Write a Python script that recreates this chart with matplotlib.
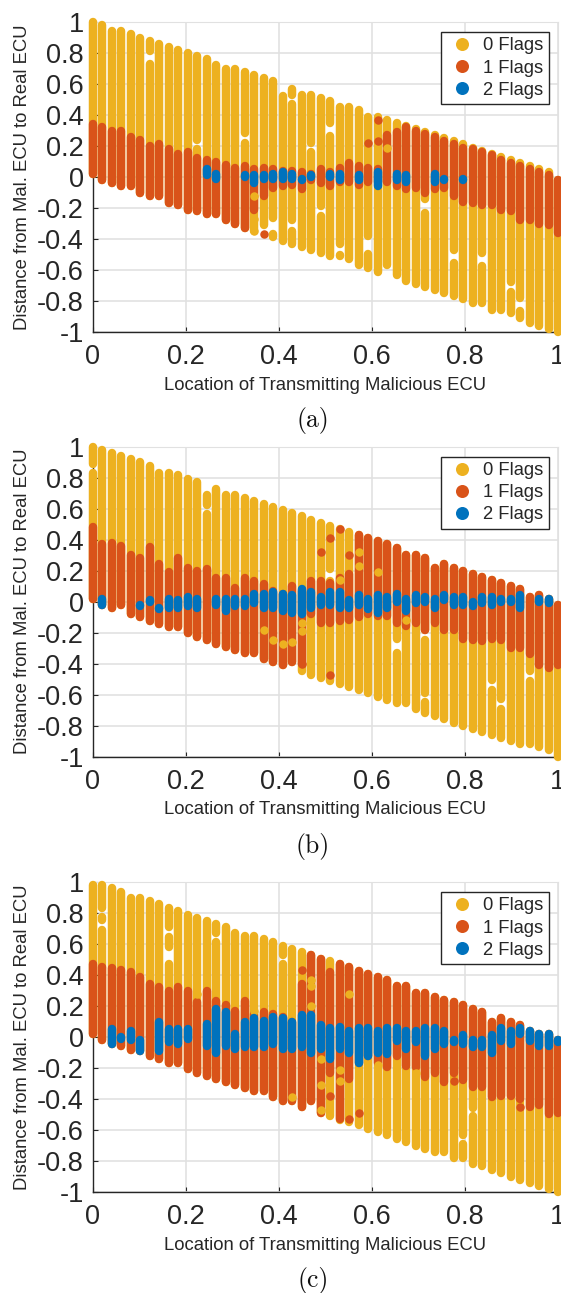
import numpy as np
from matplotlib import pyplot as plt

plt.rcParams['font.family'] = ['Liberation Sans', 'DejaVu Sans']
plt.rcParams['axes.unicode_minus'] = False

nan = np.nan

# malicious ecu location of each column of points
col_x = [0.0, .0204, .0408, .0612, .0816, .1020, .1224, .1429, .1633, .1837,
         .2041, .2245, .2449, .2653, .2857, .3061, .3265, .3469, .3673, .3878,
         .4082, .4286, .4490, .4694, .4898, .5102, .5306, .5510, .5714, .5918,
         .6122, .6327, .6531, .6735, .6939, .7143, .7347, .7551, .7755, .7959,
         .8163, .8367, .8571, .8776, .8980, .9184, .9388, .9592, .9796, 1.0]

# (a) extent of each column and where the 1 flag / 2 flag runs sit in it
a_top = [1.0, .98, .94, .94, .92, .90, .88, .86, .84, .82,
         .80, .78, .76, .72, .70, .70, .68, .66, .64, .62,
         .59, .57, .53, .53, .51, .49, .45, .45, .43, .39,
         .39, .37, .35, .33, .31, .29, .27, .25, .23, .21,
         .19, .17, .15, .13, .11, .09, .07, .05, .03, -.02]
a_bottom = [.02, -.02, -.04, -.06, -.06, -.10, -.12, -.12, -.17, -.18,
            -.21, -.22, -.24, -.24, -.28, -.30, -.33, -.35, -.37, -.39,
            -.41, -.43, -.45, -.47, -.49, -.51, -.51, -.53, -.57, -.59,
            -.61, -.57, -.63, -.67, -.69, -.71, -.73, -.75, -.77, -.79,
            -.81, -.81, -.86, -.86, -.88, -.91, -.94, -.96, -.98, -1.0]
a_red_top = [.34, .32, .30, .30, .26, .24, .20, .21, .18, .15,
             .16, .12, .11, .10, .08, .06, .07, .05, .06, .05,
             .04, .04, .03, .02, .05, .03, .06, .09, .07, .06,
             .05, .27, .29, .32, .30, .28, .26, .23, .21, .19,
             .18, .16, .14, .11, .09, .07, .05, .03, .01, -.02]
a_red_bot = [.02, -.02, -.04, -.06, -.06, -.10, -.12, -.12, -.17, -.18,
             -.21, -.22, -.24, -.24, -.28, -.30, -.33, -.21, -.12, -.07,
             -.06, -.05, -.08, -.02, -.04, -.06, -.03, -.03, -.05, -.03,
             -.03, -.03, -.06, -.08, -.07, -.10, -.08, -.07, -.12, -.16,
             -.17, -.18, -.18, -.21, -.22, -.28, -.28, -.30, -.31, -.36]
a_blue_top = [.02, nan, nan, nan, nan, nan, -.02, nan, nan, nan,
              .02, nan, .05, .02, .02, -.02, .01, .01, .01, .02,
              .03, .02, -.01, .01, .03, .02, .02, .03, .01, 0.0,
              .03, -.02, .02, .01, -.04, -.03, .02, -.01, nan, -.01,
              nan, .02, .01, nan, -.02, -.02, nan, -.02, nan, nan]
a_blue_bot = [.02, nan, nan, nan, nan, nan, -.02, nan, nan, nan,
              .02, nan, .01, -.01, .02, -.02, 0.0, -.04, -.01, -.01,
              -.01, -.01, -.02, 0.0, .03, 0.0, -.02, .03, -.02, 0.0,
              -.06, -.02, -.02, -.03, -.04, -.03, -.03, -.02, nan, -.02,
              nan, .02, .01, nan, -.02, -.02, nan, -.02, nan, nan]
a_stray0_x = [.3469, .3469, .3469, .6327]
a_stray0_y = [-.12, -.27, -.35, .19]
a_stray1_x = [.3673, .5918, .6122, .6122]
a_stray1_y = [-.365, .22, .37, .23]
# white breaks inside a column
a_gap_x = [.1224, .2245, .3265, .4082, .4286, .3673, .3878, .4286, .5102, .4694,
           .5306, .5918, .7143, .7755, .8367, .8980, .9184, .4898]
a_gap_hi = [.81, .24, .285, .59, .53, -.31, -.265, -.275, .35, .22,
            -.435, -.38, -.145, -.47, -.49, -.675, -.78, -.19]
a_gap_lo = [.73, .18, .22, .52, .47, -.37, -.37, -.35, .265, .16,
            -.50, -.495, -.23, -.555, -.575, -.74, -.865, -.25]

# (b)
b_top = [1.0, .98, .96, .94, .92, .90, .875, .83, .83, .815,
         .79, .77, .75, .73, .69, .69, .67, .65, .63, .61,
         .59, .57, .55, .53, .51, .49, .47, .45, .43, .41,
         .39, .37, .345, .30, .30, .28, .22, .24, .22, .20,
         .18, .16, .14, .12, .10, .08, .03, .04, .02, -.02]
b_bottom = [.02, -.02, -.04, -.02, -.08, -.10, -.125, -.145, -.165, -.165,
            -.205, -.225, -.245, -.27, -.29, -.31, -.33, -.33, -.37, -.39,
            -.41, -.39, -.45, -.47, -.49, -.51, -.53, -.55, -.57, -.59,
            -.615, -.635, -.655, -.655, -.695, -.715, -.74, -.76, -.78, -.80,
            -.82, -.84, -.86, -.88, -.90, -.92, -.92, -.94, -.96, -1.0]
b_red_top = [.48, .37, .38, .36, .30, .28, .35, .24, .19, .28,
             .22, .20, .21, .15, .155, .09, .15, .135, .115, .07,
             .05, .10, .07, .135, .135, .12, .155, .18, .43, .41,
             .39, .37, .345, .30, .30, .28, .22, .24, .22, .20,
             .18, .16, .14, .12, .10, .08, .03, .04, .02, -.02]
b_red_bot = [.02, -.02, -.04, -.02, -.08, -.10, -.125, -.145, -.165, -.165,
             -.205, -.225, -.245, -.27, -.29, -.31, -.33, -.33, -.37, -.39,
             -.41, -.39, -.40, -.08, -.135, -.135, -.125, -.115, -.10, -.08,
             -.09, -.09, -.135, -.155, -.135, -.18, -.135, -.18, -.18, -.24,
             -.245, -.255, -.24, -.25, -.30, -.30, -.34, -.41, -.43, -.41]
b_blue_top = [nan, .02, .02, -.02, .02, -.02, .01, -.05, .02, .01,
              .03, .02, -.02, .02, .02, .02, .02, .05, .05, .06,
              .05, .04, .08, .06, .03, .06, .06, .01, .04, .02,
              .04, .03, .05, .02, .04, .03, .02, .04, .03, .03,
              0.0, .03, .03, .02, .02, .04, nan, .02, .02, -.02]
b_blue_bot = [nan, -.02, .02, -.02, .02, -.03, 0.0, -.04, -.04, -.04,
              -.03, -.04, -.02, -.02, -.06, -.03, -.03, -.01, -.04, -.04,
              -.06, -.07, -.08, -.04, -.02, -.02, -.04, -.04, -.02, -.05,
              -.07, -.04, 0.0, -.06, -.01, 0.0, -.04, .01, -.02, -.02,
              -.03, -.01, -.02, 0.0, 0.0, -.04, nan, 0.0, -.01, -.02]
b_stray0_x = [.3673, .3878, .4082, .4286, .4490, .4490, .5714, .5714, .6122, .6735, .5306]
b_stray0_y = [-.18, -.25, -.27, -.26, -.14, -.19, .32, .23, .19, -.12, .14]
b_stray1_x = [.4898, .5102, .5306, .5510, .5102, .4490]
b_stray1_y = [.32, .41, .47, .30, -.47, -.40]
b_gap_x = [0.0, .2449, .2449, .5102, .6531, .7143, .9388, .8571, .8776, .7143]
b_gap_hi = [.89, .75, .625, .21, -.24, -.18, -.45, -.505, -.63, -.59]
b_gap_lo = [.83, .69, .565, .135, -.33, -.25, -.51, -.57, -.69, -.65]

# (c)
c_top = [.98, .98, .96, .935, .895, .895, .875, .855, .835, .815,
         .79, .77, .75, .73, .71, .67, .65, .65, .63, .61,
         .59, .57, .55, .53, .505, .49, .47, .45, .425, .405,
         .385, .365, .33, .33, .285, .285, .26, .24, .225, .205,
         .18, .16, .10, .12, .10, .08, .04, .02, .02, -.02]
c_bottom = [.02, -.02, -.045, -.06, -.085, -.09, -.125, -.145, -.17, -.17,
            -.205, -.23, -.25, -.27, -.29, -.31, -.33, -.35, -.35, -.39,
            -.41, -.41, -.45, -.41, -.49, -.51, -.535, -.55, -.57, -.595,
            -.615, -.635, -.655, -.675, -.70, -.72, -.74, -.74, -.78, -.78,
            -.82, -.835, -.855, -.88, -.90, -.92, -.94, -.96, -.98, -1.0]
c_red_top = [.47, .45, .445, .435, .42, .39, .345, .32, .30, .32,
             .30, .225, .30, .235, .205, .17, .235, .15, .16, .15,
             .13, .10, .345, .53, .505, .42, .47, .45, .425, .405,
             .385, .365, .33, .33, .285, .285, .26, .24, .225, .205,
             .18, .16, .10, .12, .10, .08, .04, .02, .02, -.02]
c_red_bot = [.02, -.02, -.045, -.06, -.085, -.09, -.125, -.145, -.17, -.17,
             -.205, -.23, -.25, -.27, -.29, -.31, -.33, -.35, -.35, -.39,
             -.41, -.41, -.45, -.41, -.49, -.23, -.53, -.27, -.165, -.12,
             -.165, -.195, -.12, -.185, -.195, -.26, -.23, -.29, -.23, -.28,
             -.325, -.325, -.39, -.38, -.38, -.40, -.45, -.44, -.495, -.49]
c_blue_top = [.02, .02, .05, -.01, .04, -.02, .05, .095, .05, .05,
              .05, -.045, .085, .18, .16, .02, .095, .12, .105, .13,
              .125, .10, .14, .14, .075, .055, .065, .04, .055, .055,
              .04, .055, .055, .04, .04, .055, .055, .04, -.02, .01,
              -.02, -.02, .015, .06, .04, .055, .04, .02, .02, -.02]
c_blue_bot = [.02, .02, -.045, 0.0, -.02, -.09, .05, -.09, -.035, -.045,
              -.01, -.045, -.055, -.10, -.055, -.08, -.065, -.065, -.065, -.045,
              -.08, -.08, -.065, -.10, -.08, -.14, -.08, -.10, -.165, -.12,
              -.10, -.11, -.025, -.08, -.035, -.12, -.08, -.045, -.035, -.045,
              -.065, -.065, -.10, -.025, -.045, .02, -.025, -.055, -.06, -.035]
c_stray0_x = [.2245, .3469, .4286, .4694, .4694, .4694, .4898, .4898, .4898, .5510, .5306, .5306, .6122, .6939]
c_stray0_y = [.28, .165, -.39, .37, .33, .20, -.145, -.31, -.47, .28, -.21, -.285, -.18, -.23]
c_stray1_x = [.4490, .5102, .5510, .5714, .7755, .9184]
c_stray1_y = [.43, -.38, -.53, -.49, -.285, -.45]
c_gap_x = [.1633, .1633, .0204, .0204, .2653, .4082, .7959, .8163]
c_gap_hi = [.58, .71, .755, .835, .67, .53, -.63, -.455]
c_gap_lo = [.47, .645, .69, .775, .61, .47, -.69, -.51]

panels = [
    (a_top, a_bottom, a_red_top, a_red_bot, a_blue_top, a_blue_bot,
     a_stray0_x, a_stray0_y, a_stray1_x, a_stray1_y, a_gap_x, a_gap_hi, a_gap_lo),
    (b_top, b_bottom, b_red_top, b_red_bot, b_blue_top, b_blue_bot,
     b_stray0_x, b_stray0_y, b_stray1_x, b_stray1_y, b_gap_x, b_gap_hi, b_gap_lo),
    (c_top, c_bottom, c_red_top, c_red_bot, c_blue_top, c_blue_bot,
     c_stray0_x, c_stray0_y, c_stray1_x, c_stray1_y, c_gap_x, c_gap_hi, c_gap_lo),
]
captions = ['(a)', '(b)', '(c)']
legend_labels = ['0 Flags', '1 Flags', '2 Flags']
ticks = [0, 0.2, 0.4, 0.6, 0.8, 1]
y_ticks = [-1, -0.8, -0.6, -0.4, -0.2, 0, 0.2, 0.4, 0.6, 0.8, 1]

W, H = 561, 1293
YELLOW, RED, BLUE = '#EDB120', '#D95319', '#0072BD'
DARK = '#262626'
DOT_LW = 6.1
DOT_S = DOT_LW ** 2

# pixel rows of y=1 and y=-1 for the three axes
axes_rows = [(22, 332), (446.7, 756.7), (882, 1192)]
caption_rows = [421, 846, 1281]
legend_tops = [32, 456.5, 892]

fig = plt.figure(figsize=(W / 100, H / 100), dpi=100)


def columns(ax, lo, hi, color, zorder, gap_x, gap_hi, gap_lo):
    xs, los, his = [], [], []
    for x, a, b in zip(col_x, lo, hi):
        if np.isnan(a):
            continue
        pieces = [(a, b)]
        for gx, g_hi, g_lo in zip(gap_x, gap_hi, gap_lo):
            if gx != x:
                continue
            mid = (g_hi + g_lo) / 2
            new = []
            for s, e in pieces:
                if s < mid < e:
                    new += [(s, min(g_lo, e)), (max(g_hi, s), e)]
                else:
                    new.append((s, e))
            pieces = new
        for s, e in pieces:
            xs.append(x)
            los.append(s)
            his.append(e)
    ax.vlines(xs, los, his, colors=color, linewidth=DOT_LW, capstyle='round',
              clip_on=False, zorder=zorder)


for i, p in enumerate(panels):
    top_px, bot_px = axes_rows[i]
    ax = fig.add_axes([93 / W, 1 - bot_px / H, 465 / W, (bot_px - top_px) / H])
    gaps = p[10:13]

    columns(ax, p[1], p[0], YELLOW, 3, *gaps)
    columns(ax, p[3], p[2], RED, 4, *gaps)
    ax.scatter(p[6], p[7], s=DOT_S, color=YELLOW, linewidth=0, clip_on=False, zorder=5)
    ax.scatter(p[8], p[9], s=DOT_S, color=RED, linewidth=0, clip_on=False, zorder=5)
    columns(ax, p[5], p[4], BLUE, 6, *gaps)

    ax.set_xlim(0, 1)
    ax.set_ylim(-1, 1)
    ax.set_xticks(ticks)
    ax.set_xticklabels(['0', '0.2', '0.4', '0.6', '0.8', '1'])
    ax.set_yticks(y_ticks)
    ax.set_yticklabels(['-1', '-0.8', '-0.6', '-0.4', '-0.2', '0',
                        '0.2', '0.4', '0.6', '0.8', '1'])
    ax.tick_params(direction='in', length=3.5, width=0.8, color=DARK,
                   labelcolor=DARK, labelsize=19.5, top=False, right=False)
    ax.tick_params(axis='x', pad=9)
    ax.tick_params(axis='y', pad=6.5)
    ax.grid(True, color='#e1e1e1', linewidth=1.2)
    ax.set_axisbelow(True)
    ax.spines['left'].set_color(DARK)
    ax.spines['bottom'].set_color(DARK)
    ax.spines['top'].set_color('#e1e1e1')
    ax.spines['right'].set_color('#e1e1e1')
    for side in ['left', 'bottom']:
        ax.spines[side].set_linewidth(1.0)
        ax.spines[side].set_zorder(2)

    fig.text(325.5 / W, 1 - (bot_px + 53) / H, 'Location of Transmitting Malicious ECU',
             ha='center', va='center', color=DARK, fontsize=13.3)
    fig.text(23 / W, 1 - (top_px + bot_px) / 2 / H, 'Distance from Mal. ECU to Real ECU',
             ha='center', va='center', rotation=90, color=DARK, fontsize=13.3)
    fig.text(313 / W, 1 - caption_rows[i] / H, captions[i], ha='center', va='center',
             family='cmr10', color='#111111', fontsize=18.5)

    # legend built from empty scatters so markers are bigger than the dots
    handles = [ax.scatter([], [], s=88, color=c, linewidth=0) for c in (YELLOW, RED, BLUE)]
    leg = ax.legend(handles, legend_labels, loc='upper right',
                    bbox_to_anchor=(548.5 / W, 1 - legend_tops[i] / H),
                    bbox_transform=fig.transFigure, borderaxespad=0, fontsize=13.2,
                    fancybox=False, framealpha=1, edgecolor=DARK, labelspacing=0.28,
                    handletextpad=0.25, borderpad=0.3, handlelength=1.75, scatterpoints=1,
                    scatteryoffsets=[0.5])
    leg.get_frame().set_linewidth(1.0)
    leg.set_zorder(10)
    for t in leg.get_texts():
        t.set_color(DARK)

fig.savefig('out.png', dpi=100)
